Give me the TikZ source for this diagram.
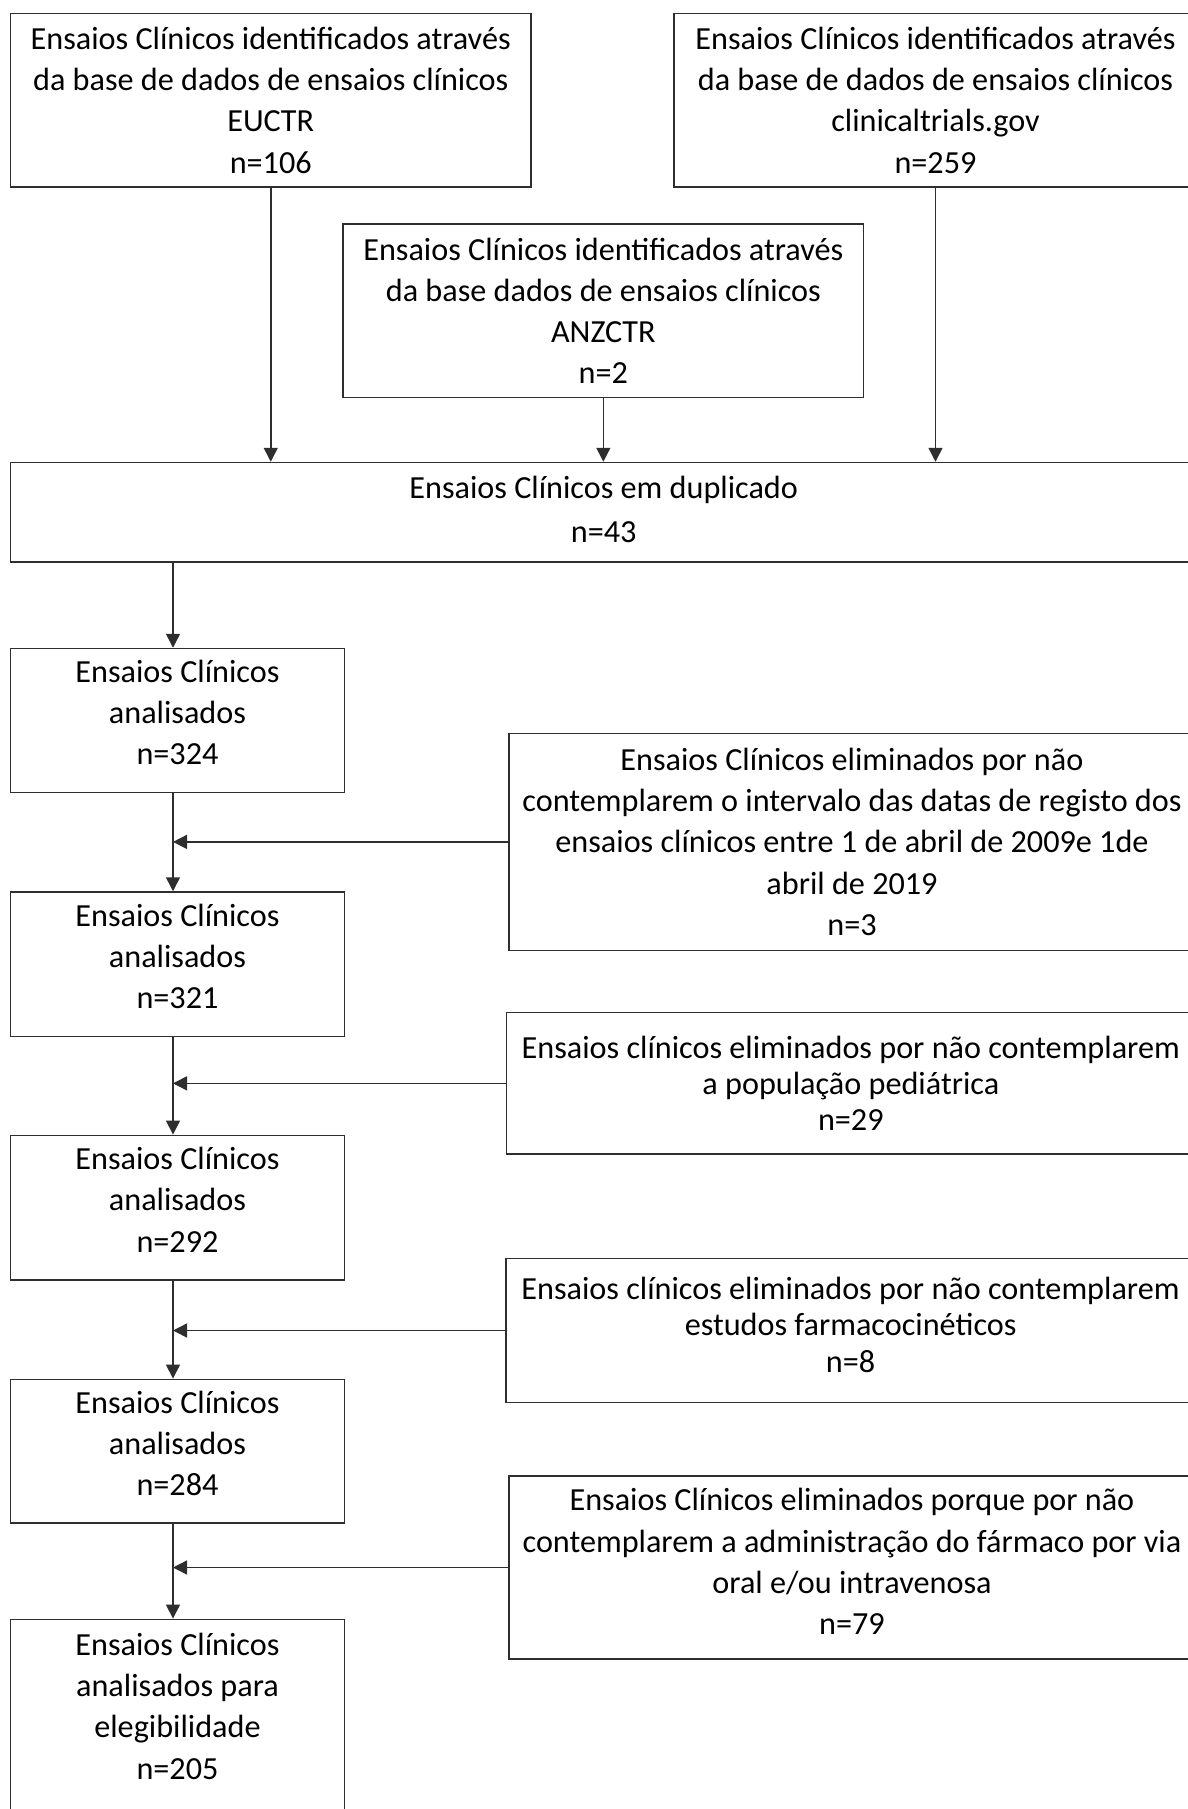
\documentclass[tikz,border=0pt]{standalone}
\usepackage{fontspec}
\setmainfont{Carlito}
\usetikzlibrary{arrows.meta}
\definecolor{lc}{HTML}{2E2E2E}
\newcommand{\lift}[1]{\rule[-#1]{0pt}{0pt}}
\begin{document}
\begin{tikzpicture}[x=0.5pt,y=-0.5pt,
  box/.style={draw=lc, line width=0.75pt, align=center, inner sep=0pt,
    font=\fontsize{16.1pt}{20.6pt}\selectfont},
  tight/.style={font=\fontsize{16.1pt}{18.2pt}\selectfont},
  arr/.style={draw=lc, line width=0.75pt, -{Triangle[width=7pt,length=7pt]}}]
\useasboundingbox (0,0) rectangle (1188,1809);
\clip (0,0) rectangle (1188,1809);
% top sources
\node[box, minimum width=260.25pt, minimum height=86.75pt] (euctr) at (270.75,100.25)
  {Ensaios Clínicos identificados através\\da base de dados de ensaios clínicos\\EUCTR\\n=106};
\node[box, minimum width=261.5pt, minimum height=86.75pt] (clin) at (935.5,100.25)
  {Ensaios Clínicos identificados através\\da base de dados de ensaios clínicos\\clinicaltrials.gov\\n=259};
\node[box, minimum width=260.35pt, minimum height=86.75pt] (anz) at (603.35,310.75)
  {Ensaios Clínicos identificados através\\da base dados de ensaios clínicos\\ANZCTR\\n=2};
\node[box, minimum width=593.25pt, minimum height=49.75pt, font=\fontsize{16.1pt}{21.8pt}\selectfont] (dup) at (603.75,512.25)
  {Ensaios Clínicos em duplicado\\n=43\lift{3pt}};
% main column
\node[box, minimum width=167pt, minimum height=72.1pt] (b324) at (177.5,720.6)
  {Ensaios Clínicos\\analisados\\n=324\lift{8pt}};
\node[box, minimum width=167pt, minimum height=72.35pt] (b321) at (177.5,964.35)
  {Ensaios Clínicos\\analisados\\n=321\lift{8pt}};
\node[box, minimum width=167pt, minimum height=72.35pt] (b292) at (177.5,1207.65)
  {Ensaios Clínicos\\analisados\\n=292\lift{8pt}};
\node[box, minimum width=167pt, minimum height=71.85pt] (b284) at (177.5,1451.15)
  {Ensaios Clínicos\\analisados\\n=284\lift{8pt}};
\node[box, minimum width=167pt, minimum height=97.85pt] (b205) at (177.5,1717.15)
  {Ensaios Clínicos\\analisados para\\elegibilidade\\n=205\lift{11pt}};
% exclusions
\node[box, minimum width=343pt, minimum height=108.6pt] (e1) at (852,841.9)
  {Ensaios Clínicos eliminados por não\\contemplarem o intervalo das datas de registo dos\\ensaios clínicos entre 1 de abril de 2009e 1de\\abril de 2019\\n=3};
\node[box, tight, minimum width=344.15pt, minimum height=70.65pt] (e2) at (850.85,1083.35)
  {Ensaios clínicos eliminados por não contemplarem\\a população pediátrica\\n=29};
\node[box, tight, minimum width=344.4pt, minimum height=72.2pt] (e3) at (850.6,1330.5)
  {Ensaios clínicos eliminados por não contemplarem\\estudos farmacocinéticos\\n=8\lift{6pt}};
\node[box, minimum width=343pt, minimum height=91.5pt] (e4) at (852,1567.5)
  {Ensaios Clínicos eliminados porque por não\\contemplarem a administração do fármaco por via\\oral e/ou intravenosa\\n=79\lift{6pt}};
% spine
\coordinate (sp) at (173,0);
% connectors
\draw[arr] (euctr.south) -- (euctr.south |- dup.north);
\draw[arr] (anz.south) -- (anz.south |- dup.north);
\draw[arr] (clin.south) -- (clin.south |- dup.north);
\draw[arr] (dup.south -| sp) -- (b324.north -| sp);
\draw[arr] (b324.south -| sp) -- (b321.north -| sp);
\draw[arr] (b321.south -| sp) -- (b292.north -| sp);
\draw[arr] (b292.south -| sp) -- (b284.north -| sp);
\draw[arr] (b284.south -| sp) -- (b205.north -| sp);
\draw[arr] (e1.west) -- (e1.west -| sp);
\draw[arr] (e2.west) -- (e2.west -| sp);
\draw[arr] (e3.west) -- (e3.west -| sp);
\draw[arr] (e4.west) -- (e4.west -| sp);
\end{tikzpicture}
\end{document}
